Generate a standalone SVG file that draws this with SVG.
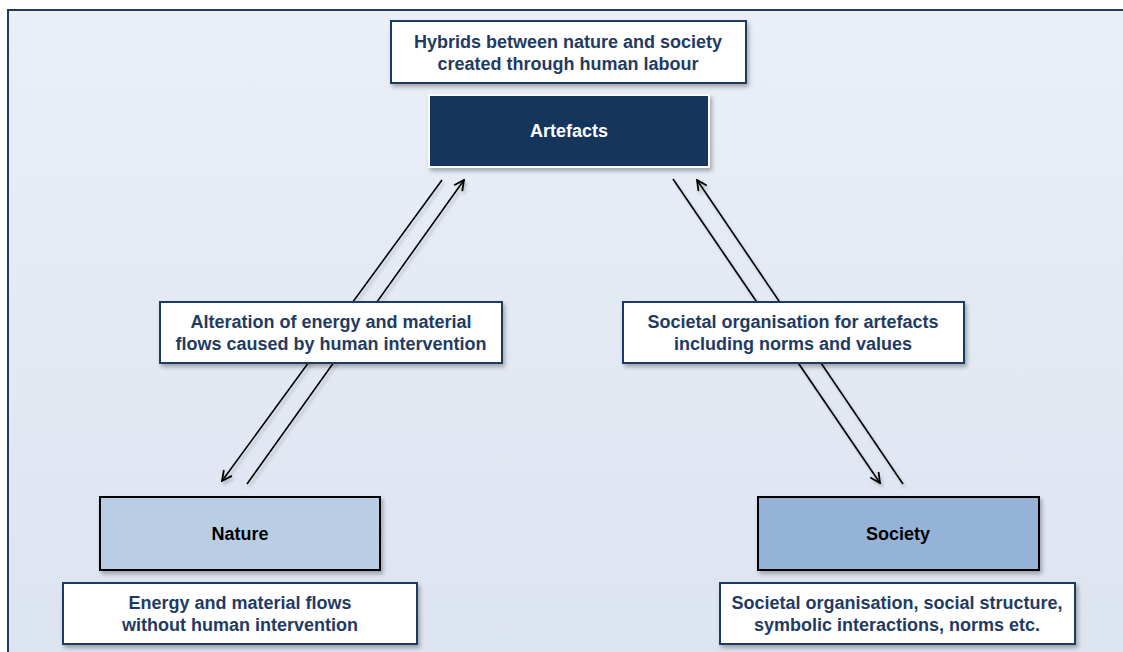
<svg xmlns="http://www.w3.org/2000/svg" width="1123" height="652" viewBox="0 0 1123 652">
  <defs>
    <linearGradient id="bg" x1="0" y1="0" x2="0" y2="1">
      <stop offset="0" stop-color="#eaeff7"/>
      <stop offset="1" stop-color="#dce4f0"/>
    </linearGradient>
    <filter id="sh" x="-10%" y="-20%" width="130%" height="150%">
      <feDropShadow dx="2" dy="3" stdDeviation="2" flood-color="#000" flood-opacity="0.3"/>
    </filter>
    <filter id="lsh" x="-20%" y="-20%" width="140%" height="140%">
      <feDropShadow dx="2" dy="3" stdDeviation="1.5" flood-color="#000" flood-opacity="0.2"/>
    </filter>
    <marker id="arr" viewBox="0 0 12 12" refX="11" refY="6" markerWidth="12" markerHeight="12" markerUnits="userSpaceOnUse" orient="auto">
      <path d="M1,1 L11,6 L1,11" fill="none" stroke="#000" stroke-width="1.8"/>
    </marker>
    <style>
      .lbl { fill:#fff; stroke:#1f3b63; stroke-width:2; filter:url(#sh); }
      .lt { font-family:"Liberation Sans", Arial, sans-serif; font-weight:bold; font-size:18px; fill:#1f3b63; text-anchor:middle; }
      .nt { font-family:"Liberation Sans", Arial, sans-serif; font-weight:bold; font-size:18px; fill:#000; text-anchor:middle; }
      .con { stroke:#000; stroke-width:1.6; fill:none; filter:url(#lsh); }
    </style>
  </defs>

  <rect x="8" y="10" width="1130" height="660" fill="url(#bg)" stroke="#1f3b63" stroke-width="2"/>

  <g id="connectors">
    <line class="con" x1="442" y1="180" x2="222" y2="481" marker-end="url(#arr)"/>
    <line class="con" x1="247" y1="484" x2="464" y2="180" marker-end="url(#arr)"/>
    <line class="con" x1="673" y1="179" x2="880" y2="483" marker-end="url(#arr)"/>
    <line class="con" x1="903" y1="484" x2="697" y2="180" marker-end="url(#arr)"/>
    <line class="con" x1="392" y1="522" x2="744" y2="522" marker-end="url(#arr)"/>
    <line class="con" x1="745" y1="545" x2="393" y2="545" marker-end="url(#arr)"/>
  </g>

  <g id="hybrids-label">
    <rect class="lbl" x="391" y="21" width="355" height="62"/>
    <text class="lt" x="568" y="48">Hybrids between nature and society</text>
    <text class="lt" x="568" y="70">created through human labour</text>
  </g>

  <g id="artefacts">
    <rect x="429" y="95" width="280" height="72" fill="#17365d" stroke="#fff" stroke-width="2" filter="url(#sh)"/>
    <text class="nt" x="569" y="137" style="fill:#fff">Artefacts</text>
  </g>

  <g id="alteration-label">
    <rect class="lbl" x="160" y="302" width="342" height="61"/>
    <text class="lt" x="331" y="328">Alteration of energy and material</text>
    <text class="lt" x="331" y="350">flows caused by human intervention</text>
  </g>

  <g id="societal-org-label">
    <rect class="lbl" x="623" y="302" width="341" height="61"/>
    <text class="lt" x="793" y="328">Societal organisation for artefacts</text>
    <text class="lt" x="793" y="350">including norms and values</text>
  </g>

  <g id="nature">
    <rect x="100" y="497" width="280" height="73" fill="#b9cde5" stroke="#000" stroke-width="2" filter="url(#sh)"/>
    <text class="nt" x="240" y="540">Nature</text>
  </g>

  <g id="society">
    <rect x="758" y="497" width="281" height="73" fill="#95b3d7" stroke="#000" stroke-width="2" filter="url(#sh)"/>
    <text class="nt" x="898" y="540">Society</text>
  </g>

  <g id="nature-label">
    <rect class="lbl" x="63" y="583" width="354" height="61"/>
    <text class="lt" x="240" y="609">Energy and material flows</text>
    <text class="lt" x="240" y="631">without human intervention</text>
  </g>

  <g id="society-label">
    <rect class="lbl" x="720" y="583" width="355" height="61"/>
    <text class="lt" x="897" y="609">Societal organisation, social structure,</text>
    <text class="lt" x="897" y="631">symbolic interactions, norms etc.</text>
  </g>
</svg>
